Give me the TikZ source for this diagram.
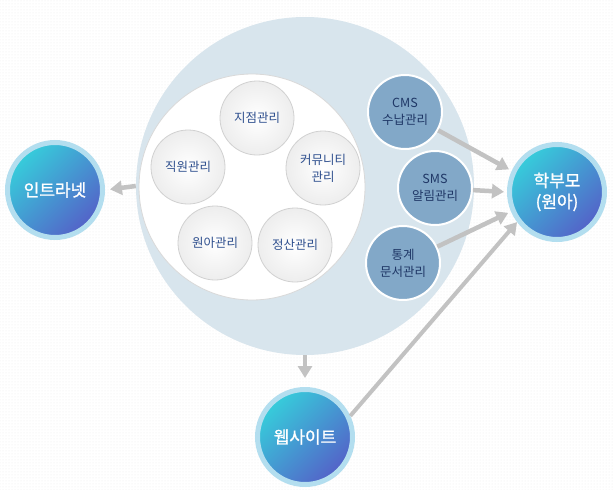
\documentclass[tikz,border=0pt]{standalone}
\usepackage{fontspec}
\setmainfont{Noto Sans CJK KR}
\newfontfamily\portalfont[FakeBold=1.2]{Noto Sans CJK KR}
\usetikzlibrary{arrows.meta,patterns}

\definecolor{ringblue}{HTML}{D8E5ED}
\definecolor{halo}{HTML}{B3DEEF}
\definecolor{topcyan}{HTML}{36CDDB}
\definecolor{botblue}{HTML}{5462C8}
\definecolor{modfill}{HTML}{82A8C8}
\definecolor{modtext}{HTML}{1F3766}
\definecolor{subtext}{HTML}{2E4F8E}
\definecolor{arrgray}{HTML}{C2C2C2}

\begin{document}
\begin{tikzpicture}[x=1pt, y=-1pt,
    portal/.style={circle, draw=halo, line width=5pt, minimum size=95pt,
                top color=topcyan, bottom color=botblue, shading angle=45,
                text=white, align=center, font=\portalfont\fontsize{17}{21}\selectfont},
    sub/.style={circle, draw=black!18, line width=0.8pt, minimum size=74pt,
                inner color=white, outer color=black!7,
                text=subtext, align=center, font=\fontsize{12.5}{17}\selectfont},
    svc/.style={circle, draw=white, line width=2pt, minimum size=74pt,
                fill=modfill, text=modtext, align=center,
                font=\fontsize{12.5}{17}\selectfont},
    arr/.style={-{Triangle[length=12pt,width=14pt]}, line width=4.5pt, draw=arrgray},
]
\useasboundingbox (0,0) rectangle (614,490);

% --- Background ---
\fill[white] (0,0) rectangle (614,490);
\fill[pattern=dots, pattern color=black!8] (0,0) rectangle (614,490);

% --- Centre system ---
\node[circle, fill=ringblue, minimum size=338pt] (system) at (305,186) {};
\node[circle, fill=white, draw=black!15, line width=0.8pt, minimum size=226pt] (modules) at (252,187) {};

\node[sub] (branch) at (257,118) {지점관리};
\node[sub] (staff) at (188,167) {직원관리};
\node[sub] (community) at (323,168) {커뮤니티\\관리};
\node[sub] (kids) at (215,243) {원아관리};
\node[sub] (settle) at (295,245) {정산관리};

\node[svc] (cms) at (405,112) {CMS\\수납관리};
\node[svc] (sms) at (435,188) {SMS\\알림관리};
\node[svc] (stats) at (403,263) {통계\\문서관리};

% --- Outer targets ---
\node[portal] (parent) at (557,192) {학부모\\(원아)};
\node[portal] (intranet) at (55,190) {인트라넷};
\node[portal] (website) at (305,437) {웹사이트};

% --- Arrows ---
\draw[arr, shorten >=5pt] (system.west) -- (intranet.east);
\draw[arr, shorten >=9pt] (system.south) -- (website.north);
\draw[arr, shorten >=3pt] (cms) -- (parent.155);
\draw[arr, shorten >=3pt] (sms) -- (parent.180);
\draw[arr, shorten >=3pt] (stats) -- (parent.203);
\draw[arr, line width=4pt] (website.25) -- (parent.217);

\end{tikzpicture}
\end{document}
